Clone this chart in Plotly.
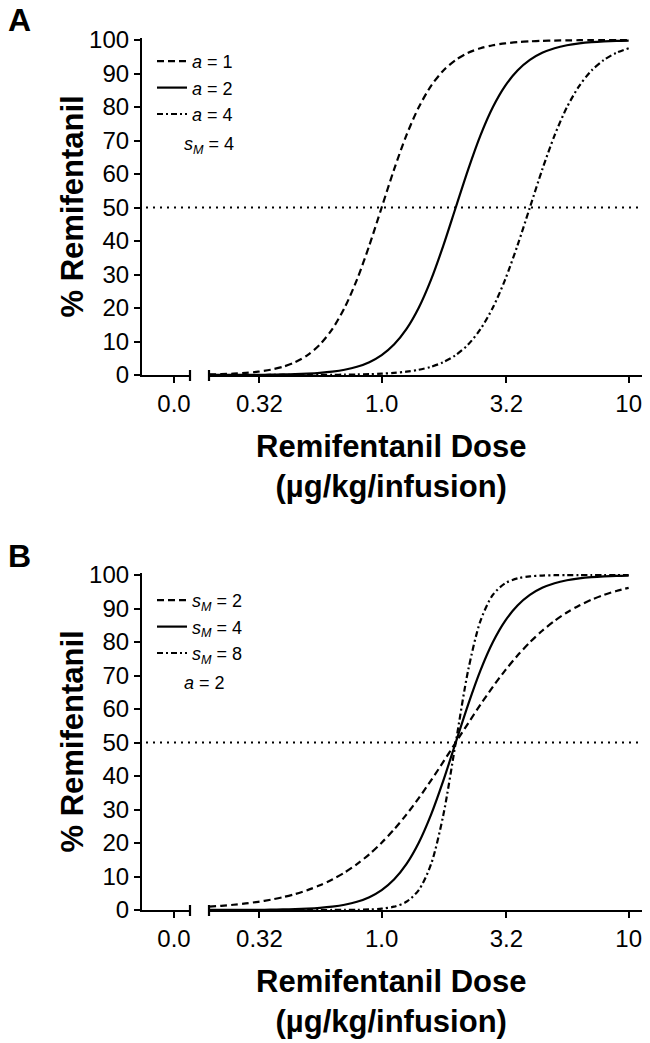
import plotly.graph_objects as go

# ---------------- data ----------------
DOSE = [0.2, 0.2239, 0.2512, 0.2818, 0.3162, 0.3548, 0.3981, 0.4467, 0.5012, 0.5623,
        0.631, 0.7079, 0.7943, 0.8913, 1.0, 1.122, 1.259, 1.413, 1.585, 1.778,
        1.995, 2.239, 2.512, 2.818, 3.162, 3.548, 3.981, 4.467, 5.012, 5.623,
        6.31, 7.079, 7.943, 8.913, 10.0]

# Panel A: s_M = 4, varying a
A_A1 = [0.16, 0.25, 0.40, 0.63, 0.99, 1.56, 2.45, 3.83, 5.94, 9.09,
        13.68, 20.08, 28.47, 38.69, 50, 61.31, 71.53, 79.92, 86.32, 90.91,
        94.06, 96.17, 97.55, 98.44, 99.01, 99.37, 99.60, 99.75, 99.84, 99.90,
        99.94, 99.96, 99.97, 99.98, 99.99]
A_A2 = [0.01, 0.02, 0.03, 0.04, 0.06, 0.10, 0.16, 0.25, 0.40, 0.63,
        0.99, 1.56, 2.45, 3.83, 5.94, 9.09, 13.68, 20.08, 28.47, 38.69,
        50, 61.31, 71.53, 79.92, 86.32, 90.91, 94.06, 96.17, 97.55, 98.44,
        99.01, 99.37, 99.60, 99.75, 99.84]
A_A4 = [0, 0, 0, 0, 0, 0.01, 0.01, 0.02, 0.03, 0.04,
        0.06, 0.10, 0.16, 0.25, 0.40, 0.63, 0.99, 1.56, 2.45, 3.83,
        5.94, 9.09, 13.68, 20.08, 28.47, 38.69, 50, 61.31, 71.53, 79.92,
        86.32, 90.91, 94.06, 96.17, 97.55]

# Panel B: a = 2, varying s_M
B_S2 = [0.99, 1.24, 1.56, 1.96, 2.45, 3.07, 3.83, 4.77, 5.94, 7.36,
        9.09, 11.18, 13.68, 16.63, 20.08, 24.03, 28.47, 33.39, 38.69, 44.27,
        50, 55.73, 61.31, 66.61, 71.53, 75.97, 79.92, 83.37, 86.32, 88.82,
        90.91, 92.64, 94.06, 95.23, 96.17]
B_S4 = [0.01, 0.02, 0.03, 0.04, 0.06, 0.10, 0.16, 0.25, 0.40, 0.63,
        0.99, 1.56, 2.45, 3.83, 5.94, 9.09, 13.68, 20.08, 28.47, 38.69,
        50, 61.31, 71.53, 79.92, 86.32, 90.91, 94.06, 96.17, 97.55, 98.44,
        99.01, 99.37, 99.60, 99.75, 99.84]
B_S8 = [0, 0, 0, 0, 0, 0, 0, 0, 0, 0,
        0.01, 0.03, 0.06, 0.16, 0.40, 0.99, 2.45, 5.94, 13.68, 28.47,
        50, 71.53, 86.32, 94.06, 97.55, 99.01, 99.60, 99.84, 99.94, 99.97,
        99.99, 100, 100, 100, 100]

A_NAMES = ["<i>a</i> = 1", "<i>a</i> = 2", "<i>a</i> = 4"]
B_NAMES = ["<i>s<sub>M</sub></i> = 2", "<i>s<sub>M</sub></i> = 4", "<i>s<sub>M</sub></i> = 8"]

X_TICKVALS = [0.32, 1, 3.2, 10]
X_TICKTEXT = ["0.32", "1.0", "3.2", "10"]
Y_TICKVALS = [0, 10, 20, 30, 40, 50, 60, 70, 80, 90, 100]
ZERO_TICKVALS = [0]
ZERO_TICKTEXT = ["0.0"]

# ---------------- styling ----------------
PAGE_W, PAGE_H = 650, 1043
OFF = 8                      # default page margin around the plot div
W, H = PAGE_W - OFF, PAGE_H - OFF
FONT = "Liberation Sans, Arial, Helvetica, sans-serif"
DASHES = ["7px,4px", "solid", "6px,3px,2px,3px"]
LW = 2.2


def px_x(p):
    return (p - OFF) / W


def px_y(p):
    return 1 - (p - OFF) / H


fig = go.Figure()

panels = [
    dict(series=[A_A1, A_A2, A_A4], names=A_NAMES, xb="x", xm="x2", y="y", legend="legend",
         top=38, bottom=375),
    dict(series=[B_S2, B_S4, B_S8], names=B_NAMES, xb="x3", xm="x4", y="y3", legend="legend2",
         top=573, bottom=910),
]

for p in panels:
    # empty placeholder so the "0.0" break segment axis is kept by plotly
    fig.add_trace(go.Scatter(x=ZERO_TICKVALS, y=[None], mode="lines", showlegend=False,
                             xaxis=p["xb"], yaxis=p["y"], hoverinfo="skip"))
    for vals, name, dash in zip(p["series"], p["names"], DASHES):
        fig.add_trace(go.Scatter(
            x=DOSE, y=vals, mode="lines", name=name,
            line=dict(color="black", width=LW, dash=dash, shape="spline", smoothing=0.8),
            xaxis=p["xm"], yaxis=p["y"], legend=p["legend"], hoverinfo="skip",
        ))

axis_common = dict(showline=True, linecolor="black", linewidth=2.2, ticks="outside",
                   ticklen=6, tickwidth=2.2, tickcolor="black", showgrid=False,
                   zeroline=False, tickfont=dict(family=FONT, size=24, color="black"))

layout_axes = {}
for i, p in enumerate(panels):
    yname = "yaxis" if i == 0 else "yaxis3"
    xbname = "xaxis" if i == 0 else "xaxis3"
    xmname = "xaxis2" if i == 0 else "xaxis4"
    ydom = [px_y(p["bottom"]), px_y(p["top"])]
    layout_axes[yname] = dict(
        axis_common, domain=ydom, range=[0, 100.6], anchor=p["xb"],
        tickvals=Y_TICKVALS, automargin=False,
    )
    layout_axes[xbname] = dict(
        axis_common, domain=[px_x(142), px_x(190)], range=[-2, 1], anchor=p["y"],
        tickvals=ZERO_TICKVALS, ticktext=ZERO_TICKTEXT, automargin=False,
    )
    layout_axes[xmname] = dict(
        axis_common, domain=[px_x(209), px_x(643)], type="log", range=[-0.699, 1.058],
        anchor=p["y"], tickvals=X_TICKVALS, ticktext=X_TICKTEXT, automargin=False,
    )

shapes = []
annotations = []
for i, p in enumerate(panels):
    # 50 % reference line
    shapes.append(dict(type="line", xref="paper", yref=p["y"], x0=px_x(146), x1=px_x(643),
                       y0=50, y1=50, line=dict(color="black", width=2, dash="2px,5px")))
    # axis-break caps
    for bx in (190, 209):
        shapes.append(dict(type="line", xref="paper", yref="paper",
                           x0=px_x(bx), x1=px_x(bx),
                           y0=px_y(p["bottom"] + 6), y1=px_y(p["bottom"] - 5),
                           line=dict(color="black", width=2.2)))
    # y-axis title
    annotations.append(dict(text="<b>% Remifentanil</b>", textangle=-90,
                            xref="paper", yref="paper", x=px_x(72),
                            y=px_y((p["top"] + p["bottom"]) / 2), xanchor="center",
                            yanchor="middle", showarrow=False,
                            font=dict(family=FONT, size=31, color="black")))
    # x-axis title
    annotations.append(dict(text="<b>Remifentanil Dose<br>(µg/kg/infusion)</b>",
                            xref="paper", yref="paper", x=px_x(391),
                            y=px_y(p["bottom"] + 91), xanchor="center", yanchor="middle",
                            showarrow=False, font=dict(family=FONT, size=31, color="black")))

annotations += [
    dict(text="<b>A</b>", xref="paper", yref="paper", x=px_x(20), y=px_y(20),
         xanchor="center", yanchor="middle", showarrow=False,
         font=dict(family=FONT, size=32, color="black")),
    dict(text="<b>B</b>", xref="paper", yref="paper", x=px_x(20), y=px_y(556),
         xanchor="center", yanchor="middle", showarrow=False,
         font=dict(family=FONT, size=32, color="black")),
    dict(text="<i>s<sub>M</sub></i> = 4", xref="paper", yref="paper", x=px_x(182), y=px_y(146),
         xanchor="left", yanchor="middle", showarrow=False,
         font=dict(family=FONT, size=18, color="black")),
    dict(text="<i>a</i> = 2", xref="paper", yref="paper", x=px_x(182), y=px_y(683),
         xanchor="left", yanchor="middle", showarrow=False,
         font=dict(family=FONT, size=18, color="black")),
]

legend_common = dict(xanchor="left", yanchor="top", bgcolor="rgba(0,0,0,0)", borderwidth=0,
                     font=dict(family=FONT, size=18, color="black"), tracegroupgap=0)

fig.update_layout(
    width=W, height=H, margin=dict(l=0, r=0, t=0, b=0),
    paper_bgcolor="white", plot_bgcolor="white",
    font=dict(family=FONT, color="black"),
    legend=dict(legend_common, x=px_x(152), y=px_y(43)),
    legend2=dict(legend_common, x=px_x(152), y=px_y(582)),
    shapes=shapes, annotations=annotations,
    **layout_axes,
)

fig.write_html("out.html")
